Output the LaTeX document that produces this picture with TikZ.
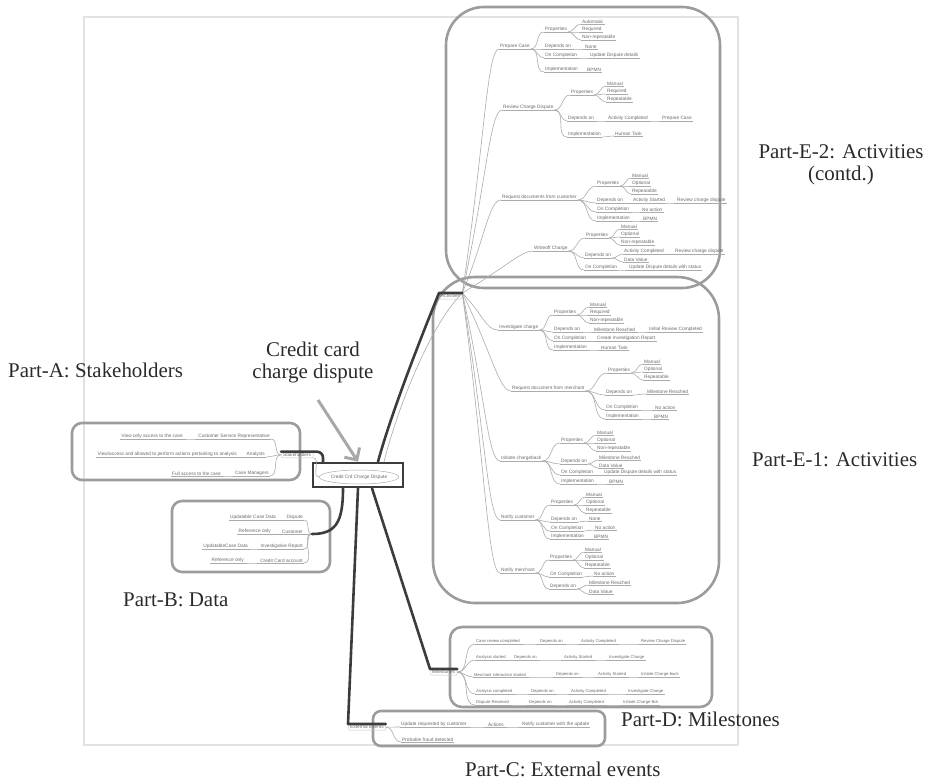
\documentclass[tikz,border=0pt]{standalone}
\usepackage{fontspec}
\setmainfont{Liberation Serif}
\newfontfamily\mmfont{Liberation Sans}
\usetikzlibrary{calc,arrows.meta,shapes.geometric}

\definecolor{framegray}{HTML}{E2E2E2}
\definecolor{boxgray}{HTML}{9C9C9C}
\definecolor{darkline}{HTML}{3C3C3C}
\definecolor{mmline}{HTML}{ABABAB}
\definecolor{mmtext}{HTML}{6A6A6A}
\definecolor{callgray}{HTML}{A8A8A8}
\definecolor{labeltext}{HTML}{2A2A2A}

\tikzset{
  partbox/.style={draw=boxgray,line width=2.6bp},
  tline/.style={draw=mmline,line width=0.6bp},
  hl/.style={draw=darkline,line width=2.6bp,line cap=round,line join=round},
  tn/.style={font=\mmfont\fontsize{4.8}{5.5}\selectfont,text=mmtext,
    inner xsep=1bp,inner ysep=0.7bp,anchor=south west,
    append after command={(\tikzlastnode.south west) edge[tline] (\tikzlastnode.south east)}},
  tnl/.style={tn,anchor=south east},
  tnm/.style={tn,font=\mmfont\fontsize{4.2}{5}\selectfont},
  hub/.style={font=\mmfont\fontsize{4.8}{5.5}\selectfont,text=mmtext,
    draw=mmline!70,line width=0.4bp,rounded corners=1bp,inner xsep=2bp,inner ysep=1.2bp},
  partlabel/.style={font=\fontsize{21}{22}\selectfont,text=labeltext,anchor=base west,inner sep=0},
}

% parent -> child link of the mind map
\newcommand\mmL[2]{\draw[tline] (#1.south east) to[out=0,in=180] (#2.south west);}
% link from the activities hub to one activity
\newcommand\mmF[1]{\draw[tline] (act.north east) .. controls ($(act.north east)!0.6!(#1.south west)$) and ($(#1.south west)+(-12,0)$) .. (#1.south west);}

\begin{document}
\begin{tikzpicture}[x=1bp,y=-1bp]
\useasboundingbox (0,0) rectangle (943,784);

% page frame of the mind map
\draw[draw=framegray,line width=1.5bp] (84,17) rectangle (738,745);

% part boxes
\draw[partbox,rounded corners=38bp] (446,7) rectangle (720,288);
\draw[partbox,rounded corners=42bp] (433,277) rectangle (719,603);
\draw[partbox,rounded corners=10bp] (72,423) rectangle (300,480);
\draw[partbox,rounded corners=10bp] (172,501) rectangle (330,572);
\draw[partbox,rounded corners=12bp] (450,627) rectangle (712,707);
\draw[partbox,rounded corners=8bp] (373,711) rectangle (605,746);

% root topic
\node[draw=darkline,line width=2.6bp,minimum width=90bp,minimum height=24bp,inner sep=0] (root) at (358,475) {};
\node[ellipse,draw=mmline,line width=0.5bp,minimum width=74bp,minimum height=14bp,inner sep=0,
  font=\mmfont\fontsize{4.8}{5.5}\selectfont,text=mmtext] (rootel) at (359,477) {Credit Crd Charge Dispute};

% main branch topics
\node[hub,anchor=north west] (act) at (439,293) {Activities};
\node[hub,anchor=north west] (ms) at (430,669) {Milestones};
\node[hub,anchor=north west] (ee) at (348,724) {External Events};
\node[hub,anchor=south west] (sh) at (281,458) {Stakeholders};
\coordinate (dh) at (312,534);

% original mind-map branches under the highlights
\draw[tline] ([xshift=26bp]root.north) .. controls (397,410) and (430,325) .. (act.north east);
\draw[tline] (rootel.west) to[out=180,in=0] (sh.south east);

% ---------- Activities (contd.) ----------
\node[tn] (pc) at (499,49) {Prepare Case};
\node[tn] (pcP) at (544,32) {Properties};
\node[tn] (pcP1) at (581,24) {Automatic};
\node[tn] (pcP2) at (581,32) {Required};
\node[tn] (pcP3) at (581,40) {Non-repeatable};
\node[tn] (pcD) at (544,49) {Depends on};
\node[tn] (pcD1) at (584,49) {None};
\node[tn] (pcO) at (544,58) {On Completion};
\node[tn] (pcO1) at (589,58) {Update Dispute details};
\node[tn] (pcI) at (544,72) {Implementation};
\node[tn] (pcI1) at (586,72) {BPMN};
\mmL{pc}{pcP}\mmL{pc}{pcD}\mmL{pc}{pcO}\mmL{pc}{pcI}
\mmL{pcP}{pcP1}\mmL{pcP}{pcP2}\mmL{pcP}{pcP3}\mmL{pcD}{pcD1}\mmL{pcO}{pcO1}\mmL{pcI}{pcI1}

\node[tn] (rc) at (502,110) {Review Charge Dispute};
\node[tn] (rcP) at (570,95) {Properties};
\node[tn] (rcP1) at (606,86) {Manual};
\node[tn] (rcP2) at (606,94) {Required};
\node[tn] (rcP3) at (606,102) {Repeatable};
\node[tn] (rcD) at (567,121) {Depends on};
\node[tn] (rcD1) at (607,121) {Activity Completed};
\node[tn] (rcD2) at (661,121) {Prepare Case};
\node[tn] (rcI) at (567,137) {Implementation};
\node[tn] (rcI1) at (614,136) {Human Task};
\mmL{rc}{rcP}\mmL{rc}{rcD}\mmL{rc}{rcI}
\mmL{rcP}{rcP1}\mmL{rcP}{rcP2}\mmL{rcP}{rcP3}\mmL{rcD}{rcD1}\mmL{rcD1}{rcD2}\mmL{rcI}{rcI1}

\node[tn] (rd) at (501,200) {Request documents from customer};
\node[tn] (rdP) at (596,186) {Properties};
\node[tn] (rdP1) at (631,178) {Manual};
\node[tn] (rdP2) at (631,186) {Optional};
\node[tn] (rdP3) at (631,194) {Repeatable};
\node[tn] (rdD) at (596,203) {Depends on};
\node[tn] (rdD1) at (632,203) {Activity Started};
\node[tn] (rdD2) at (676,203) {Review charge dispute};
\node[tn] (rdO) at (596,212) {On Completion};
\node[tn] (rdO1) at (641,212) {No action};
\node[tn] (rdI) at (596,221) {Implementation};
\node[tn] (rdI1) at (642,221) {BPMN};
\mmL{rd}{rdP}\mmL{rd}{rdD}\mmL{rd}{rdO}\mmL{rd}{rdI}
\mmL{rdP}{rdP1}\mmL{rdP}{rdP2}\mmL{rdP}{rdP3}\mmL{rdD}{rdD1}\mmL{rdD1}{rdD2}\mmL{rdO}{rdO1}\mmL{rdI}{rdI1}

\node[tn] (wc) at (533,251) {Writeoff Charge};
\node[tn] (wcP) at (585,238) {Properties};
\node[tn] (wcP1) at (620,229) {Manual};
\node[tn] (wcP2) at (620,237) {Optional};
\node[tn] (wcP3) at (620,245) {Non-repeatable};
\node[tn] (wcD) at (584,258) {Depends on};
\node[tn] (wcD1) at (623,254) {Activity Completed};
\node[tn] (wcD2) at (674,254) {Review charge dispute};
\node[tn] (wcD3) at (623,262) {Data Value};
\node[tn] (wcO) at (584,270) {On Completion};
\node[tn] (wcO1) at (628,270) {Update Dispute details with status};
\mmL{wc}{wcP}\mmL{wc}{wcD}\mmL{wc}{wcO}
\mmL{wcP}{wcP1}\mmL{wcP}{wcP2}\mmL{wcP}{wcP3}\mmL{wcD}{wcD1}\mmL{wcD1}{wcD2}\mmL{wcD}{wcD3}\mmL{wcO}{wcO1}

% ---------- Activities ----------
\node[tn] (ic) at (498,330) {Investigate charge};
\node[tn] (icP) at (553,315) {Properties};
\node[tn] (icP1) at (589,307) {Manual};
\node[tn] (icP2) at (589,315) {Required};
\node[tn] (icP3) at (589,323) {Non-repeatable};
\node[tn] (icD) at (553,332) {Depends on};
\node[tn] (icD1) at (593,332) {Milestone Reached};
\node[tn] (icD2) at (648,332) {Initial Review Completed};
\node[tn] (icO) at (553,341) {On Completion};
\node[tn] (icO1) at (596,341) {Create Investigation Report};
\node[tn] (icI) at (553,350) {Implementation};
\node[tn] (icI1) at (600,350) {Human Task};
\mmL{ic}{icP}\mmL{ic}{icD}\mmL{ic}{icO}\mmL{ic}{icI}
\mmL{icP}{icP1}\mmL{icP}{icP2}\mmL{icP}{icP3}\mmL{icD}{icD1}\mmL{icD1}{icD2}\mmL{icO}{icO1}\mmL{icI}{icI1}

\node[tn] (rm) at (511,391) {Request document from merchant};
\node[tn] (rmP) at (607,373) {Properties};
\node[tn] (rmP1) at (643,364) {Manual};
\node[tn] (rmP2) at (643,372) {Optional};
\node[tn] (rmP3) at (643,380) {Repeatable};
\node[tn] (rmD) at (605,395) {Depends on};
\node[tn] (rmD1) at (646,394) {Milestone Reached};
\node[tn] (rmO) at (605,410) {On Completion};
\node[tn] (rmO1) at (654,410) {No action};
\node[tn] (rmI) at (605,419) {Implementation};
\node[tn] (rmI1) at (653,419) {BPMN};
\mmL{rm}{rmP}\mmL{rm}{rmD}\mmL{rm}{rmO}\mmL{rm}{rmI}
\mmL{rmP}{rmP1}\mmL{rmP}{rmP2}\mmL{rmP}{rmP3}\mmL{rmD}{rmD1}\mmL{rmO}{rmO1}\mmL{rmI}{rmI1}

\node[tn] (ib) at (500,461) {Initiate chargeback};
\node[tn] (ibP) at (560,443) {Properties};
\node[tn] (ibP1) at (596,435) {Manual};
\node[tn] (ibP2) at (596,443) {Optional};
\node[tn] (ibP3) at (596,451) {Non-repeatable};
\node[tn] (ibD) at (560,464) {Depends on};
\node[tn] (ibD1) at (598,460) {Milestone Reached};
\node[tn] (ibD2) at (598,468) {Data Value};
\node[tn] (ibO) at (560,475) {On Completion};
\node[tn] (ibO1) at (603,475) {Update Dispute details with status};
\node[tn] (ibI) at (560,484) {Implementation};
\node[tn] (ibI1) at (608,484) {BPMN};
\mmL{ib}{ibP}\mmL{ib}{ibD}\mmL{ib}{ibO}\mmL{ib}{ibI}
\mmL{ibP}{ibP1}\mmL{ibP}{ibP2}\mmL{ibP}{ibP3}\mmL{ibD}{ibD1}\mmL{ibD}{ibD2}\mmL{ibO}{ibO1}\mmL{ibI}{ibI1}

\node[tn] (nc) at (500,520) {Notify customer};
\node[tn] (ncP) at (550,505) {Properties};
\node[tn] (ncP1) at (585,497) {Manual};
\node[tn] (ncP2) at (585,505) {Optional};
\node[tn] (ncP3) at (585,513) {Repeatable};
\node[tn] (ncD) at (550,522) {Depends on};
\node[tn] (ncD1) at (588,521) {None};
\node[tn] (ncO) at (550,531) {On Completion};
\node[tn] (ncO1) at (594,530) {No action};
\node[tn] (ncI) at (550,539) {Implementation};
\node[tn] (ncI1) at (593,539) {BPMN};
\mmL{nc}{ncP}\mmL{nc}{ncD}\mmL{nc}{ncO}\mmL{nc}{ncI}
\mmL{ncP}{ncP1}\mmL{ncP}{ncP2}\mmL{ncP}{ncP3}\mmL{ncD}{ncD1}\mmL{ncO}{ncO1}\mmL{ncI}{ncI1}

\node[tn] (nm) at (500,573) {Notify merchant};
\node[tn] (nmP) at (549,560) {Properties};
\node[tn] (nmP1) at (584,552) {Manual};
\node[tn] (nmP2) at (584,560) {Optional};
\node[tn] (nmP3) at (584,568) {Repeatable};
\node[tn] (nmO) at (549,577) {On Completion};
\node[tn] (nmO1) at (593,576) {No action};
\node[tn] (nmD) at (549,589) {Depends on};
\node[tn] (nmD1) at (588,585) {Milestone Reached};
\node[tn] (nmD2) at (588,594) {Data Value};
\mmL{nm}{nmP}\mmL{nm}{nmO}\mmL{nm}{nmD}
\mmL{nmP}{nmP1}\mmL{nmP}{nmP2}\mmL{nmP}{nmP3}\mmL{nmO}{nmO1}\mmL{nmD}{nmD1}\mmL{nmD}{nmD2}

% activities hub to each activity
\mmF{pc}\mmF{rc}\mmF{rd}\mmF{wc}\mmF{ic}\mmF{rm}\mmF{ib}\mmF{nc}\mmF{nm}

% ---------- Stakeholders ----------
\node[tnl] (shr1) at (271,439) {Customer Service Representative};
\node[tnl] (shr2) at (266,457) {Analysts};
\node[tnl] (shr3) at (270,476) {Case Managers};
\node[tnl] (sha1) at (184,439) {View only access to the case};
\node[tnl] (sha2) at (238,457) {View/access and allowed to perform actions pertaining to analysis};
\node[tnl] (sha3) at (222,476) {Full access to the case};
\draw[tline] (shr1.south east) to[out=0,in=180] (sh.west);
\draw[tline] (shr2.south east) to[out=0,in=180] (sh.west);
\draw[tline] (shr3.south east) to[out=0,in=180] (sh.west);
\mmL{sha1}{shr1}\mmL{sha2}{shr2}\mmL{sha3}{shr3}

% ---------- Data ----------
\node[tnl] (db1) at (304,520) {Dispute};
\node[tnl] (db2) at (304,534) {Customer};
\node[tnl] (db3) at (304,549) {Investigative Report};
\node[tnl] (db4) at (304,563) {Credit Card account};
\node[tnl] (da1) at (277,520) {Updatable Case Data};
\node[tnl] (da2) at (272,534) {Reference only};
\node[tnl] (da3) at (249,549) {UpdatableCase Data};
\node[tnl] (da4) at (245,563) {Reference only};
\draw[tline] (db1.south east) to[out=0,in=180] (dh);
\draw[tline] (db2.south east) to[out=0,in=180] (dh);
\draw[tline] (db3.south east) to[out=0,in=180] (dh);
\draw[tline] (db4.south east) to[out=0,in=180] (dh);
\mmL{da1}{db1}\mmL{da2}{db2}\mmL{da3}{db3}\mmL{da4}{db4}

% ---------- Milestones ----------
\node[tnm] (m1a) at (475,644) {Case review completed};
\node[tnm] (m1b) at (539,644) {Depends on};
\node[tnm] (m1c) at (580,644) {Activity Completed};
\node[tnm] (m1d) at (640,644) {Review Charge Dispute};
\node[tnm] (m2a) at (475,660) {Analysis started};
\node[tnm] (m2b) at (513,660) {Depends on};
\node[tnm] (m2c) at (563,660) {Activity Started};
\node[tnm] (m2d) at (608,660) {Investigate Charge};
\node[tnm] (m3a) at (473,677) {Merchant interaction started};
\node[tnm] (m3b) at (555,677) {Depends on};
\node[tnm] (m3c) at (597,677) {Activity Started};
\node[tnm] (m3d) at (640,677) {Initiate Charge-back};
\node[tnm] (m4a) at (475,694) {Analysis completed};
\node[tnm] (m4b) at (530,694) {Depends on};
\node[tnm] (m4c) at (570,694) {Activity Completed};
\node[tnm] (m4d) at (627,694) {Investigate Charge};
\node[tnm] (m5a) at (475,705) {Dispute Resolved};
\node[tnm] (m5b) at (528,705) {Depends on};
\node[tnm] (m5c) at (568,705) {Activity Completed};
\node[tnm] (m5d) at (622,705) {Initiate Charge Bck};
\foreach \r in {1,...,5}{
  \draw[tline] (ms.east) to[out=0,in=180] (m\r a.south west);
  \mmL{m\r a}{m\r b}\mmL{m\r b}{m\r c}\mmL{m\r c}{m\r d}
}

% ---------- External events ----------
\node[tn] (eu) at (400,727) {Update requested by customer};
\node[tn] (eua) at (487,727) {Actions};
\node[tn] (eun) at (521,727) {Notify customer with the update};
\node[tn] (ef) at (401,742) {Probable fraud detected};
\draw[tline] (ee.east) to[out=0,in=180] (eu.south west);
\draw[tline] (ee.east) to[out=0,in=180] (ef.south west);
\mmL{eu}{eua}\mmL{eua}{eun}

% ---------- highlighted branches from the root ----------
\draw[hl] ([xshift=20bp]root.north) .. controls (392,410) and (426,325) .. (act.north west) -- (act.north east);
\draw[hl,rounded corners=6bp] (sh.north west) -| ([xshift=-35bp]root.north);
\draw[hl] ([xshift=-15bp]root.south) .. controls (343,522) and (336,534) .. (dh);
\draw[hl] (root.south) -- (ee.north west) -- (ee.north east);
\draw[hl] ([xshift=14bp]root.south) -- (ms.north west) -- (ms.north east);

% ---------- part labels ----------
\node[partlabel] (la) at (8,377) {Part-A: Stakeholders};
\node[partlabel] (lb) at (123,606) {Part-B: Data};
\node[partlabel] (lc) at (465,776) {Part-C: External events};
\node[partlabel] (ld) at (621,726) {Part-D: Milestones};
\node[partlabel] (le1) at (752,466) {Part-E-1: Activities};
% for these two-line labels the base anchor sits on the last line
\node[partlabel,anchor=base,align=center] (le2) at (841,180) {Part-E-2: Activities\\(contd.)};
\node[partlabel,anchor=base,align=center] (cclabel) at (313,378) {Credit card\\charge dispute};

\coordinate (ccstart) at (318,400);
\draw[draw=callgray,line width=3bp,-{Straight Barb[length=9bp,width=18bp]}] (ccstart) -- (root.north);

\end{tikzpicture}
\end{document}
